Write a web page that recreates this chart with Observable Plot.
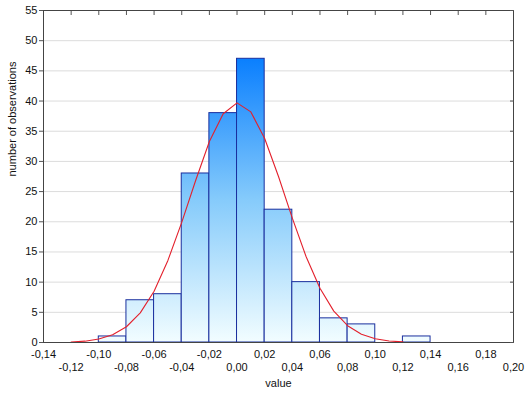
<!DOCTYPE html>
<html>
<head>
<meta charset="utf-8">
<script src="https://cdn.jsdelivr.net/npm/d3@7"></script>
<script src="https://cdn.jsdelivr.net/npm/@observablehq/plot@0.6"></script>
<style>
  html, body { margin: 0; padding: 0; background: #fff; }
  svg { display: block; }
</style>
</head>
<body>
<div id="chart"></div>
<script>
// Histogram bins (lower edge, upper edge) and counts
const binLower = [-0.10, -0.08, -0.06, -0.04, -0.02, 0.00, 0.02, 0.04, 0.06, 0.08, 0.10, 0.12];
const binUpper = [-0.08, -0.06, -0.04, -0.02, 0.00, 0.02, 0.04, 0.06, 0.08, 0.10, 0.12, 0.14];
const counts   = [1, 7, 8, 28, 38, 47, 22, 10, 4, 3, 0, 1];

// Fitted normal curve
const curveX = [-0.12, -0.11, -0.10, -0.09, -0.08, -0.07, -0.06, -0.05, -0.04, -0.03, -0.02, -0.01,
                0.00, 0.01, 0.02, 0.03, 0.04, 0.05, 0.06, 0.07, 0.08, 0.09, 0.10, 0.11, 0.12];
const curveY = [0.09, 0.22, 0.57, 1.27, 2.61, 4.91, 8.5, 13.6, 19.9, 26.8, 33.3, 37.9,
                39.7, 38.2, 33.8, 27.5, 20.6, 14.2, 9.0, 5.2, 2.78, 1.37, 0.62, 0.26, 0.10];

// Axis ticks
const xTicksRow1 = [-0.14, -0.10, -0.06, -0.02, 0.02, 0.06, 0.10, 0.14, 0.18];
const xTicksRow2 = [-0.12, -0.08, -0.04, 0.00, 0.04, 0.08, 0.12, 0.16, 0.20];
const xTopTicks  = [-0.12, -0.10, -0.08, -0.06, -0.04, -0.02, 0.00, 0.02, 0.04, 0.06, 0.08, 0.10, 0.12, 0.14, 0.16, 0.18];
const yTicks = [0, 5, 10, 15, 20, 25, 30, 35, 40, 45, 50, 55];
const yGrid  = [5, 10, 15, 20, 25, 30, 35, 40, 45, 50];
const gradTop = 47;

const bins = binLower.map((lo, i) => ({x1: lo, x2: binUpper[i], y: counts[i]}));
const curve = curveX.map((x, i) => ({x, y: curveY[i]}));
const fmt = d => d.toFixed(2).replace(".", ",");

const gradientMark = (index, scales) => {
  const y = scales.y;
  const defs = d3.create("svg:defs");
  const g = defs.append("linearGradient")
    .attr("id", "barGrad")
    .attr("gradientUnits", "userSpaceOnUse")
    .attr("x1", 0).attr("x2", 0)
    .attr("y1", y(0)).attr("y2", y(gradTop));
  g.append("stop").attr("offset", "0").attr("stop-color", "#f2fdff");
  g.append("stop").attr("offset", "0.5").attr("stop-color", "#86cbfb");
  g.append("stop").attr("offset", "1").attr("stop-color", "#0a7ffe");
  return defs.node();
};

const chart = Plot.plot({
  width: 530,
  height: 398,
  marginLeft: 43,
  marginRight: 17,
  marginTop: 10,
  marginBottom: 56,
  style: {fontFamily: "'Liberation Sans', Arial, sans-serif", fontSize: "11px", color: "#111", background: "#fff"},
  x: {domain: [-0.14, 0.20]},
  y: {domain: [0, 55]},
  marks: [
    gradientMark,
    Plot.ruleY(yGrid, {stroke: "#dcdcdc", strokeWidth: 1}),
    Plot.rectY(bins, {x1: "x1", x2: "x2", y: "y", fill: "url(#barGrad)", stroke: "#1a2f9e", strokeWidth: 1, inset: 0}),
    Plot.line(curve, {x: "x", y: "y", stroke: "#e3202c", strokeWidth: 1.1}),
    Plot.frame({stroke: "#444", strokeWidth: 1}),
    Plot.axisY(yTicks, {anchor: "left", tickSize: 4, tickPadding: 2, label: null, stroke: "#555"}),
    Plot.axisY(yTicks, {anchor: "right", tickSize: 4, dx: -4, text: null, label: null, stroke: "#555"}),
    Plot.axisX(xTopTicks, {anchor: "top", tickSize: 4, dy: 4, text: null, label: null, stroke: "#555"}),
    Plot.axisX(xTicksRow1, {anchor: "bottom", tickSize: 0, tickPadding: 8, tickFormat: fmt, label: null}),
    Plot.axisX(xTicksRow2, {anchor: "bottom", tickSize: 0, tickPadding: 21, tickFormat: fmt, label: null}),
    Plot.text(["value"], {text: d => d, frameAnchor: "bottom", dy: 44, fontSize: 11}),
    Plot.text(["number of observations"], {text: d => d, frameAnchor: "left", dx: -31, rotate: -90, fontSize: 11})
  ]
});
document.getElementById("chart").appendChild(chart);
</script>
</body>
</html>
